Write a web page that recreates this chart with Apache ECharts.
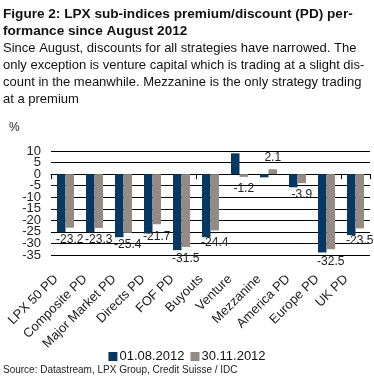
<!DOCTYPE html>
<html>
<head>
<meta charset="utf-8">
<script src="https://cdn.jsdelivr.net/npm/echarts@6/dist/echarts.min.js"></script>
<style>
html,body{margin:0;padding:0;background:#fff;}
#c{width:374px;height:382px;}
</style>
</head>
<body>
<div id="c"></div>
<script>
var categories = ['LPX 50 PD','Composite PD','Major Market PD','Directs PD','FOF PD','Buyouts','Venture','Mezzanine','America PD','Europe PD','UK PD'];
var seriesNames = ['01.08.2012','30.11.2012'];
var aug2012 = [-25.2, -25.2, -27.3, -25.7, -32.9, -27.3, 9.0, -1.4, -5.7, -33.9, -26.4];
var nov2012 = [-23.2, -23.3, -25.4, -21.7, -31.5, -24.4, -1.2, 2.1, -3.9, -32.5, -23.5];
var yTicks = {min: -35, max: 10, interval: 5};

var titleLines = ['Figure 2: LPX sub-indices premium/discount (PD) per-', 'formance since August 2012'];
var bodyLines = ['Since August, discounts for all strategies have narrowed. The',
  'only exception is venture capital which is trading at a slight dis-',
  'count in the meanwhile. Mezzanine is the only strategy trading',
  'at a premium'];
var unitLabel = '%';
var sourceText = 'Source: Datastream, LPX Group, Credit Suisse / IDC';

var FONT = '"Liberation Sans", Arial, Helvetica, sans-serif';
var chart = echarts.init(document.getElementById('c'), null, {renderer: 'canvas'});

var graphics = [];
titleLines.forEach(function(t, i){
  graphics.push({type:'text', left: 3, top: 7 + i*17, style:{text:t, font:'bold 13.6px ' + FONT, fill:'#111'}});
});
bodyLines.forEach(function(t, i){
  graphics.push({type:'text', left: 3, top: 42 + i*17, style:{text:t, font:'13px ' + FONT, fill:'#111'}});
});
graphics.push({type:'text', left: 9, top: 122, style:{text:unitLabel, font:'12px ' + FONT, fill:'#222'}});
graphics.push({type:'text', left: 3, top: 365, style:{text:sourceText, font:'10px ' + FONT, fill:'#222'}});

var novData = nov2012.map(function(v){
  return {value: v, label: {position: v >= 0 ? 'top' : 'bottom'}};
});

var yLabelStyle = {fontSize: 13, color: '#222', margin: 10, fontFamily: FONT, hideOverlap: false};

chart.setOption({
  animation: false,
  textStyle: {fontFamily: FONT},
  graphic: graphics,
  grid: [
    {left: 51, right: 4, top: 151, bottom: 127},
    {left: 41.5, right: 13.5, top: 151, bottom: 127}
  ],
  legend: {
    data: seriesNames,
    top: 345,
    left: 'center',
    itemWidth: 9,
    itemHeight: 9,
    itemGap: 6,
    icon: 'rect',
    textStyle: {fontSize: 13, color: '#111', fontFamily: FONT, padding: [0,0,0,-3]}
  },
  xAxis: [
    {type: 'category', data: categories, gridIndex: 0,
     axisLine: {onZero: true, lineStyle: {color: '#000', width: 1}},
     axisTick: {show: true, length: 5, lineStyle: {color: '#000'}},
     axisLabel: {show: false}, splitLine: {show: false}},
    {type: 'category', data: categories, gridIndex: 1, position: 'bottom',
     axisLine: {show: false}, axisTick: {show: false}, splitLine: {show: false},
     axisLabel: {show: true, rotate: 45, interval: 0, margin: 22, fontSize: 13, color: '#222', fontFamily: FONT, hideOverlap: false}}
  ],
  yAxis: [
    {type: 'value', gridIndex: 0, min: yTicks.min, max: yTicks.max, interval: yTicks.interval,
     axisLine: {show: false}, axisTick: {show: false},
     splitLine: {show: true, lineStyle: {color: '#000', width: 1}},
     axisLabel: Object.assign({showMinLabel: false, showMaxLabel: false}, yLabelStyle)},
    {type: 'value', gridIndex: 1, min: yTicks.min, max: yTicks.max, interval: yTicks.interval, show: false},
    {type: 'value', gridIndex: 0, position: 'left', offset: 0,
     min: yTicks.min, max: yTicks.max, interval: yTicks.interval,
     axisLine: {show: false}, axisTick: {show: false}, splitLine: {show: false},
     axisLabel: Object.assign({showMinLabel: true, showMaxLabel: true,
       formatter: function(v){ return (v === yTicks.min || v === yTicks.max) ? String(v) : ''; }}, yLabelStyle)}
  ],
  series: [
    {name: seriesNames[0], type: 'bar', data: aug2012, xAxisIndex: 0, yAxisIndex: 0,
     barWidth: 8.5, barGap: '0%', itemStyle: {color: '#073763'}},
    {name: seriesNames[1], type: 'bar', data: novData, xAxisIndex: 0, yAxisIndex: 0,
     barWidth: 8.5, barGap: '0%', itemStyle: {color: '#968b82'},
     label: {show: true, distance: 6, fontSize: 12, color: '#222', fontFamily: FONT,
       formatter: function(p){ return p.value.toFixed(1); }}}
  ]
});
</script>
</body>
</html>
